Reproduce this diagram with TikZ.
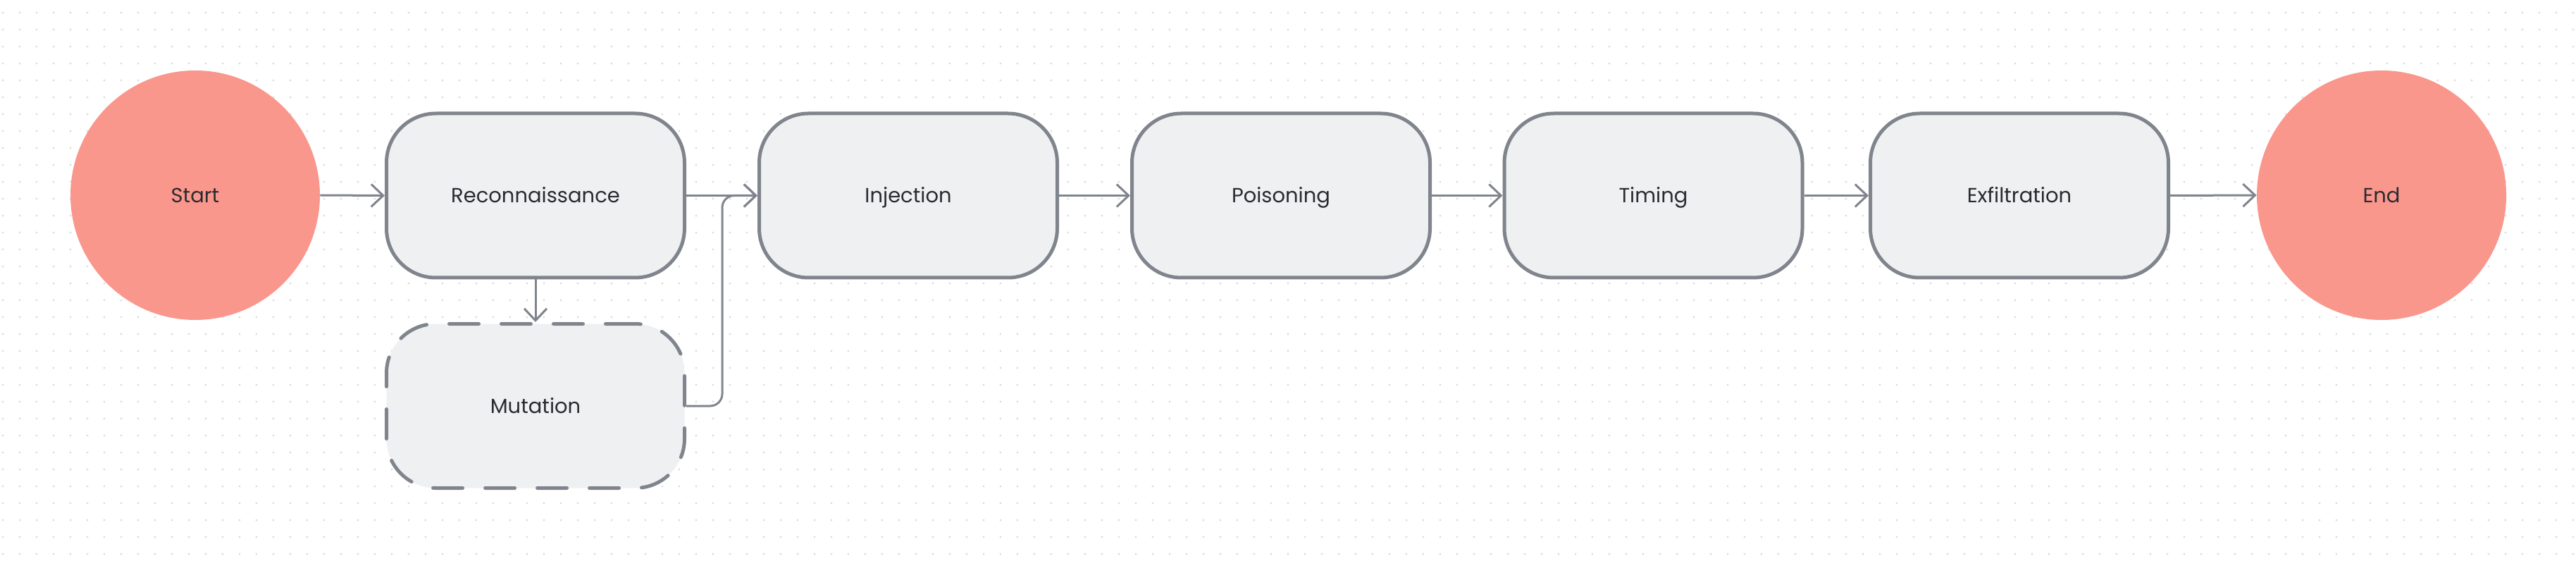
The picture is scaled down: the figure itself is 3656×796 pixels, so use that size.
\documentclass[tikz,border=0pt]{standalone}
\usepackage{fontspec}
\setmainfont{Poppins}
\usetikzlibrary{arrows.meta}
\definecolor{edgegray}{HTML}{80858D}
\definecolor{boxfill}{HTML}{EFF0F2}
\definecolor{salmon}{HTML}{FA978D}
\definecolor{txt}{HTML}{2B2B2F}
\definecolor{dotc}{HTML}{DCDDE1}
\tikzset{
  labeltext/.style={text=txt, font=\fontsize{14.5pt}{16pt}\selectfont,
    inner sep=0pt, text height=10.2pt, text depth=0pt},
  stepbox/.style={rectangle, rounded corners=35pt, draw=edgegray, fill=boxfill,
    line width=2.5pt, minimum width=211.5pt, minimum height=116.5pt, labeltext},
  dashbox/.style={stepbox, dash pattern=on 21pt off 16pt, line cap=round},
  term/.style={circle, fill=salmon, draw=none, minimum size=177pt, labeltext},
  conn/.style={draw=edgegray, line width=1.5pt,
    -{Straight Barb[length=8.5pt,width=16pt,line width=1.5pt]}},
}
\begin{document}
\begin{tikzpicture}[x=0.5pt,y=-0.5pt]
\useasboundingbox[fill=white] (0,0) rectangle (3656,796);
% dotted grid
\foreach \k in {0,...,32}{
  \draw[dotc, line width=1.6pt, line cap=round, dash pattern=on 0pt off 12pt]
    (4,18+24*\k) -- (3656,18+24*\k);
}
\node[term] (start) at (277,277) {Start};
\node[stepbox] (recon) at (760,277.5) {Reconnaissance};
\node[dashbox] (mut) at (760,576) {Mutation};
\node[stepbox] (inj) at (1289,277.5) {Injection};
\node[stepbox] (pois) at (1818,277.5) {Poisoning};
\node[stepbox] (tim) at (2346.5,277.5) {Timing};
\node[stepbox] (exf) at (2866,277.5) {Exfiltration};
\node[term] (end) at (3380,277) {End};
\coordinate (bend) at (1025,277.5);
\draw[conn] (start.east) -- (recon.west);
\draw[conn] (recon.east) -- (inj.west);
\draw[conn] (recon.south) -- (mut.north);
\draw[conn, rounded corners=8.5pt] (mut.east) -| (bend) -- (inj.west);
\draw[conn] (inj.east) -- (pois.west);
\draw[conn] (pois.east) -- (tim.west);
\draw[conn] (tim.east) -- (exf.west);
\draw[conn] (exf.east) -- (end.west);
\end{tikzpicture}
\end{document}
